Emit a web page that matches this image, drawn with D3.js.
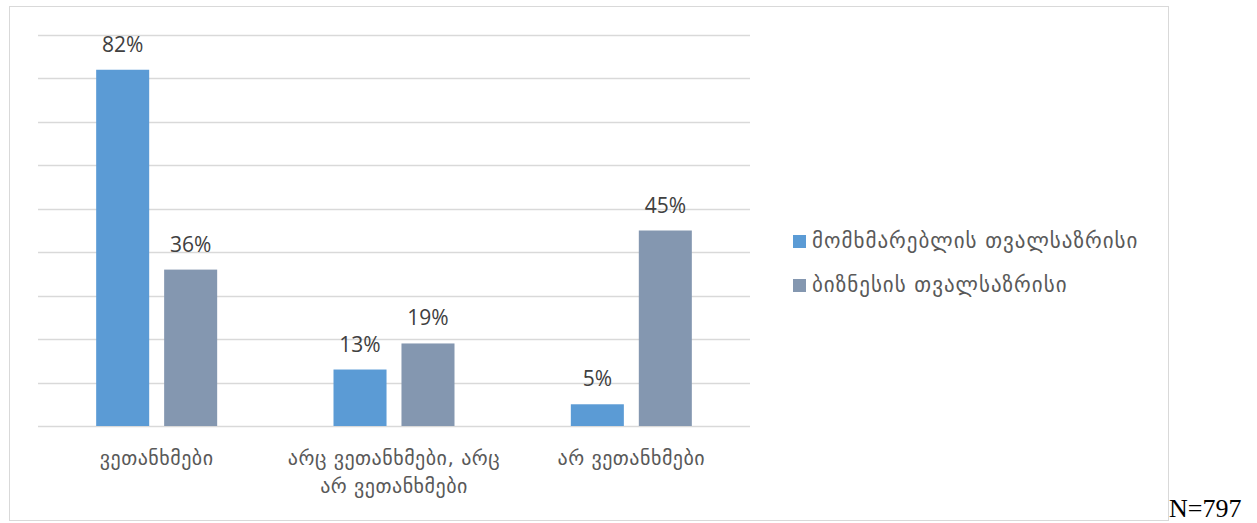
<!DOCTYPE html>
<html>
<head>
<meta charset="utf-8">
<script src="https://cdn.jsdelivr.net/npm/d3@7"></script>
<style>
  html, body { margin: 0; padding: 0; background: #fff; }
  svg { display: block; }
</style>
</head>
<body>
<svg id="chart" width="1257" height="523"></svg>
<script>
// Survey answers, percent of respondents
const categories = ["ვეთანხმები", "არც ვეთანხმები, არც არ ვეთანხმები", "არ ვეთანხმები"];
const seriesNames = ["მომხმარებლის თვალსაზრისი", "ბიზნესის თვალსაზრისი"];
const consumerValues = [82, 13, 5];
const businessValues = [36, 19, 45];
const yTicks = [0, 10, 20, 30, 40, 50, 60, 70, 80, 90];
const sampleNote = "N=797";

const colors = ["#5B9BD5", "#8497B0"];
const seriesValues = [consumerValues, businessValues];

const svg = d3.select("#chart");

// chart frame
svg.append("rect")
  .attr("x", 9.5).attr("y", 6.5)
  .attr("width", 1159).attr("height", 514)
  .attr("fill", "#fff").attr("stroke", "#d9d9d9").attr("stroke-width", 1);

const plot = { left: 38, right: 750, top: 35, bottom: 426 };

const y = d3.scaleLinear().domain([0, 90]).range([plot.bottom, plot.top]);
const x0 = d3.scaleBand().domain(categories).range([plot.left, plot.right]).padding(0);
const groupWidth = 121;
const x1 = d3.scaleBand().domain(seriesNames).range([0, groupWidth]).paddingInner(0.22).paddingOuter(0);

// horizontal gridlines
svg.append("g")
  .selectAll("line")
  .data(yTicks)
  .join("line")
  .attr("x1", plot.left).attr("x2", plot.right)
  .attr("y1", d => Math.round(y(d)) + 0.5).attr("y2", d => Math.round(y(d)) + 0.5)
  .attr("stroke", "#d9d9d9").attr("stroke-width", 1.3);

// bars
const rows = categories.map((c, i) => ({
  category: c,
  items: seriesNames.map((s, j) => ({ series: s, value: seriesValues[j][i], color: colors[j] }))
}));

const groups = svg.append("g")
  .selectAll("g")
  .data(rows)
  .join("g")
  .attr("transform", d => `translate(${x0(d.category) + (x0.bandwidth() - groupWidth) / 2},0)`);

groups.selectAll("rect")
  .data(d => d.items)
  .join("rect")
  .attr("x", d => x1(d.series))
  .attr("y", d => y(d.value))
  .attr("width", x1.bandwidth())
  .attr("height", d => y(0) - y(d.value))
  .attr("fill", d => d.color);

groups.selectAll("text")
  .data(d => d.items)
  .join("text")
  .attr("x", d => x1(d.series) + x1.bandwidth() / 2)
  .attr("y", d => y(d.value) - 18)
  .attr("text-anchor", "middle")
  .attr("font-family", "'Open Sans', 'Liberation Sans', sans-serif")
  .attr("font-size", 21)
  .attr("fill", "#404040")
  .text(d => d.value + "%");

// category axis labels, wrapped to the band width
const xAxis = d3.axisBottom(x0).tickSize(0).tickPadding(0);
const axisG = svg.append("g")
  .attr("transform", `translate(0,${plot.bottom})`)
  .call(xAxis);
axisG.select(".domain").remove();
const labelY = 39;
axisG.selectAll(".tick text")
  .attr("font-family", "'DejaVu Sans', sans-serif")
  .attr("font-size", 20)
  .attr("letter-spacing", 0.5)
  .attr("fill", "#595959")
  .attr("dy", null)
  .attr("y", labelY)
  .each(function (d) {
    const text = d3.select(this);
    const words = d.split(" ");
    text.text(null);
    const maxW = 232;
    let line = [];
    let lineNo = 0;
    let tspan = text.append("tspan").attr("x", 0).attr("y", labelY);
    for (const w of words) {
      line.push(w);
      tspan.text(line.join(" "));
      if (tspan.node().getComputedTextLength() > maxW && line.length > 1) {
        line.pop();
        tspan.text(line.join(" "));
        line = [w];
        lineNo++;
        tspan = text.append("tspan").attr("x", 0).attr("y", labelY + lineNo * 28).text(w);
      }
    }
  });

// legend
const legend = svg.append("g")
  .selectAll("g")
  .data(seriesNames)
  .join("g")
  .attr("transform", (d, i) => `translate(793,${235 + i * 44})`);
legend.append("rect")
  .attr("width", 13).attr("height", 13)
  .attr("fill", (d, i) => colors[i]);
legend.append("text")
  .attr("x", 19).attr("y", 13)
  .attr("font-family", "'DejaVu Sans', sans-serif")
  .attr("font-size", 21)
  .attr("letter-spacing", 1)
  .attr("fill", "#595959")
  .text(d => d);

// sample size note
svg.append("text")
  .attr("x", 1169).attr("y", 517)
  .attr("font-family", "'Liberation Serif', 'Times New Roman', serif")
  .attr("font-size", 26)
  .attr("fill", "#000")
  .text(sampleNote);
</script>
</body>
</html>
